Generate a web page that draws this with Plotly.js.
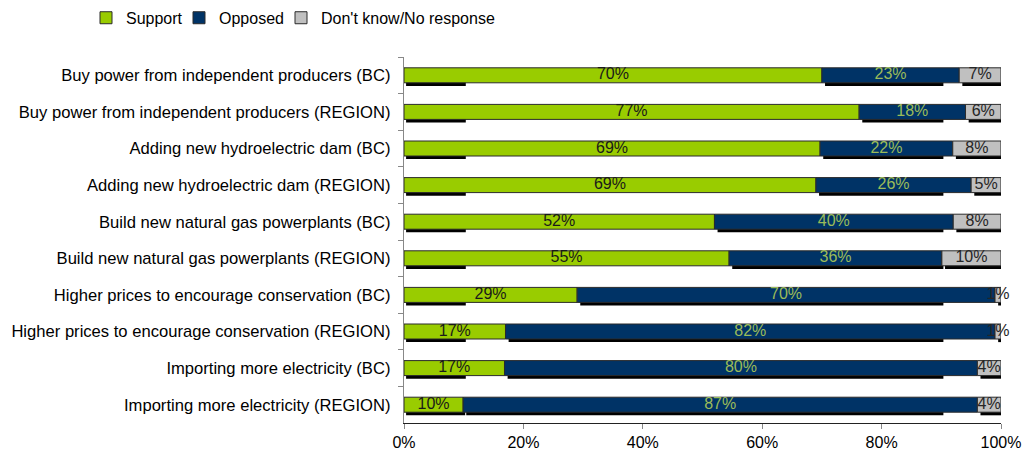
<!DOCTYPE html>
<html>
<head>
<meta charset="utf-8">
<script src="https://cdn.plot.ly/plotly-3.0.1.min.js"></script>
<style>html,body{margin:0;padding:0;background:#fff;}#chart{width:1028px;height:453px;}</style>
</head>
<body>
<div id="chart"></div>
<script>
const categories = [
  "Buy power from independent producers (BC)",
  "Buy power from independent producers (REGION)",
  "Adding new hydroelectric dam (BC)",
  "Adding new hydroelectric dam (REGION)",
  "Build new natural gas powerplants (BC)",
  "Build new natural gas powerplants (REGION)",
  "Higher prices to encourage conservation (BC)",
  "Higher prices to encourage conservation (REGION)",
  "Importing more electricity (BC)",
  "Importing more electricity (REGION)"
];
const support = [70, 77, 69, 69, 52, 55, 29, 17, 17, 10];
const opposed = [23, 18, 22, 26, 40, 36, 70, 82, 80, 87];
const dontKnow = [7, 6, 8, 5, 8, 10, 1, 1, 4, 4];
const xTickVals = [0, 20, 40, 60, 80, 100];
const xTickText = ["0%", "20%", "40%", "60%", "80%", "100%"];

const FONT = "Liberation Sans, Arial, sans-serif";
const colors = {support: "#99CC00", opposed: "#003366", dk: "#C0C0C0"};
const BW = 0.41;

// normalise to 100% like a 100% stacked bar
const totals = support.map((s, i) => s + opposed[i] + dontKnow[i]);
const sN = support.map((s, i) => s / totals[i] * 100);
const oN = opposed.map((o, i) => o / totals[i] * 100);
const dN = dontKnow.map((d, i) => d / totals[i] * 100);
const oBase = sN.slice();
const dBase = sN.map((s, i) => s + oN[i]);

// drop-shadow segments (decorative artefact in the original)
const sh = 0.35;
const shadowSegs = [];
categories.forEach((c, i) => {
  shadowSegs.push({y: c, b: sh, e: Math.min(sN[i], 10) + sh});
  shadowSegs.push({y: c, b: oBase[i] + sh * 1.5, e: Math.min(dBase[i], 90) + sh});
  shadowSegs.push({y: c, b: dBase[i] + sh * 1.5, e: 100});
});
const shadow = {
  type: "bar", orientation: "h",
  y: shadowSegs.map(s => s.y),
  base: shadowSegs.map(s => s.b),
  x: shadowSegs.map(s => Math.max(s.e - s.b, 0)),
  width: BW, offset: -BW / 2 + 0.085,
  marker: {color: "#000", line: {width: 0}},
  showlegend: false, hoverinfo: "skip"
};

function barTrace(name, x, base, color, legendId) {
  return {
    type: "bar", orientation: "h", name: name, legend: legendId,
    y: categories, x: x, base: base, width: BW,
    marker: {color: color, line: {color: "#2b2b2b", width: 1}},
    textposition: "none"
  };
}
const tSupport = barTrace("Support", sN, categories.map(() => 0), colors.support, "legend");
const tOpposed = barTrace("Opposed", oN, oBase, colors.opposed, "legend2");
const tDk = barTrace("Don't know/No response", dN, dBase, colors.dk, "legend3");

function labelTrace(vals, xs, color) {
  return {
    type: "scatter", mode: "text", y: categories,
    x: xs, text: vals.map(v => v + "%"),
    textposition: "middle center",
    textfont: {family: FONT, size: 16, color: color},
    showlegend: false, hoverinfo: "skip", cliponaxis: false
  };
}
const lSupport = labelTrace(support, sN.map(v => v / 2), "#1a1a1a");
const lOpposed = labelTrace(opposed, oBase.map((b, i) => b + oN[i] / 2), "#9BBB59");
const lDk = labelTrace(dontKnow, dBase.map((b, i) => b + dN[i] / 2), "#262626");

function legendAt(px) {
  return {
    orientation: "h", x: (px - 404) / 597, xanchor: "left", y: 1.107, yanchor: "middle",
    font: {family: FONT, size: 16, color: "#000"},
    itemwidth: 30, bgcolor: "rgba(0,0,0,0)"
  };
}

const layout = {
  width: 1028, height: 453,
  margin: {l: 404, r: 27, t: 57, b: 30, autoexpand: false},
  paper_bgcolor: "#fff", plot_bgcolor: "#fff",
  barmode: "overlay",
  font: {family: FONT, size: 16, color: "#000"},
  showlegend: true,
  legend: legendAt(86),
  legend2: legendAt(179),
  legend3: legendAt(281),
  xaxis: {
    range: [0, 100], tickvals: xTickVals, ticktext: xTickText,
    showgrid: false, zeroline: false,
    showline: true, linecolor: "#222", linewidth: 1,
    ticks: "outside", ticklen: 5, tickcolor: "#888",
    tickfont: {family: FONT, size: 16, color: "#000"}
  },
  yaxis: {
    type: "category", autorange: "reversed",
    showgrid: false, zeroline: false,
    showline: true, linecolor: "#888", linewidth: 1,
    ticks: "outside", ticklen: 5, tickcolor: "#888", tickson: "boundaries",
    tickfont: {family: FONT, size: 16.6, color: "#000"}, ticksuffix: "  "
  }
};

Plotly.newPlot("chart", [shadow, tSupport, tOpposed, tDk, lSupport, lOpposed, lDk], layout, {displayModeBar: false, staticPlot: true});
</script>
</body>
</html>
